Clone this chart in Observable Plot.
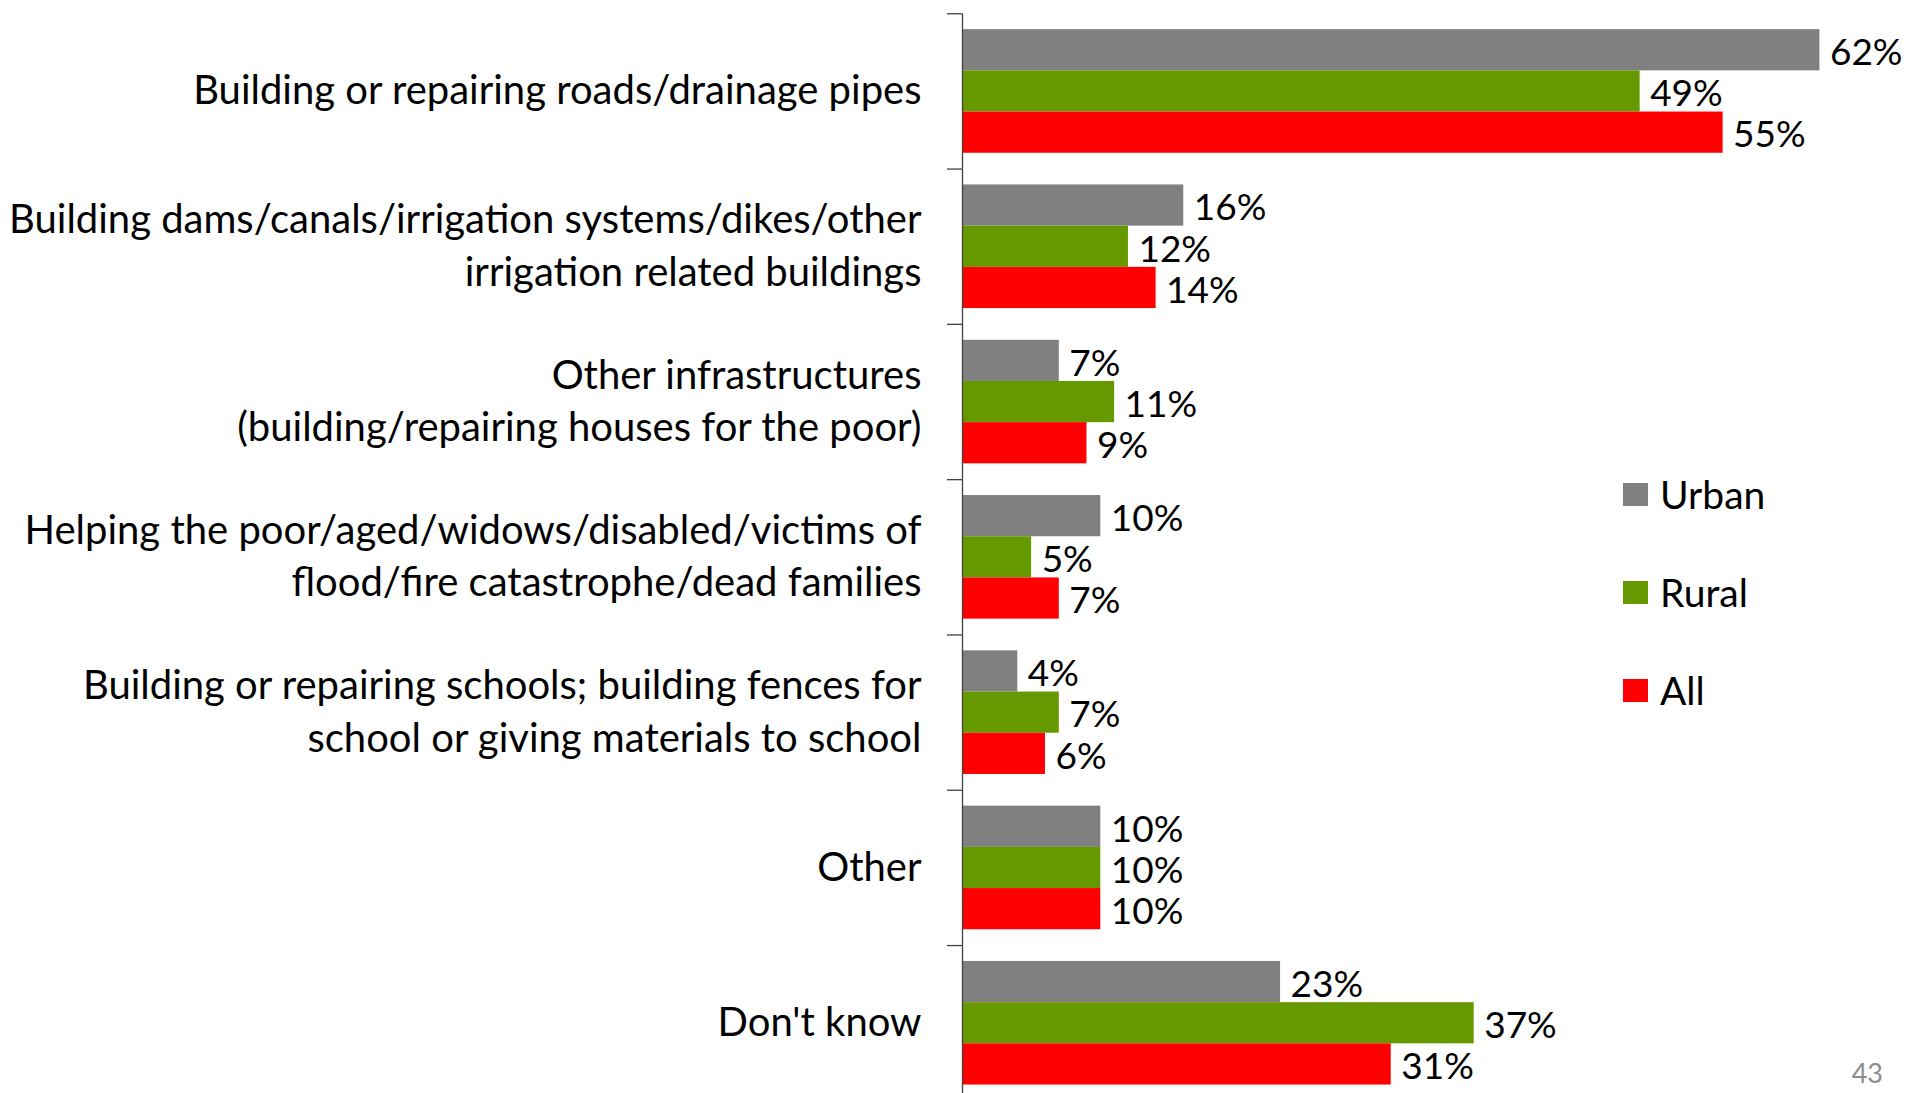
<!DOCTYPE html>
<html><head><meta charset="utf-8">
<script src="https://cdn.jsdelivr.net/npm/d3@7"></script>
<script src="https://cdn.jsdelivr.net/npm/@observablehq/plot@0.6"></script>
<style>
html,body{margin:0;padding:0;background:#fff;}
#wrap{position:relative;width:1907px;height:1093px;overflow:hidden;font-family:Lato,sans-serif;}
.item{position:absolute;left:1623px;height:40px;display:flex;align-items:center;white-space:nowrap;font-size:39px;color:#000;}
.sw{width:25px;height:23px;margin-right:12px;flex:none;}
#page{position:absolute;right:24px;top:1056px;font-size:27px;color:#8c8c8c;}
</style></head><body><div id="wrap"></div>
<script>
const categories = [
  "Building or repairing roads/drainage pipes",
  "Building dams/canals/irrigation systems/dikes/other\nirrigation related buildings",
  "Other infrastructures\n(building/repairing houses for the poor)",
  "Helping the poor/aged/widows/disabled/victims of\nflood/fire catastrophe/dead families",
  "Building or repairing schools; building fences for\nschool or giving materials to school",
  "Other",
  "Don't know"
];
const series = ["Urban", "Rural", "All"];
const seriesColors = ["#808080", "#669900", "#ff0000"];
const urban = [62, 16, 7, 10, 4, 10, 23];
const rural = [49, 12, 11, 5, 7, 10, 37];
const all   = [55, 14, 9, 7, 6, 10, 31];
const pageNumber = "43";

const valuesBySeries = [urban, rural, all];
const rows = [];
categories.forEach((c, i) => {
  valuesBySeries.forEach((arr, j) => rows.push({category: c, series: series[j], value: arr[i]}));
});

const chart = Plot.plot({
  width: 1907,
  height: 1093,
  marginLeft: 962,
  marginRight: 4.6,
  marginTop: 0,
  marginBottom: 0,
  style: {fontFamily: "Lato, sans-serif", background: "white", overflow: "visible"},
  x: {domain: [0, 68], axis: null},
  y: {domain: series, axis: null, paddingInner: 0, paddingOuter: 0.385, round: false},
  fy: {domain: categories, axis: null, padding: 0, range: [13.3, 1100.4], round: false},
  color: {domain: series, range: seriesColors},
  marks: [
    Plot.barX(rows, {fy: "category", y: "series", x: "value", fill: "series"}),
    Plot.ruleX([0], {stroke: "#404040", strokeWidth: 1.3}),
    Plot.ruleY(categories, {fy: d => d, y: () => "Urban", x1: 0, x2: 0, insetLeft: -15, dy: -36.5, stroke: "#404040", strokeWidth: 1.3}),
    Plot.text(rows, {fy: "category", y: "series", x: "value", text: d => d.value + "%", dx: 10, dy: 3, textAnchor: "start", fontSize: 37, fill: "black"}),
    Plot.text(categories, {fy: d => d, frameAnchor: "left", text: d => d, textAnchor: "end", dx: -41, dy: -4, fontSize: 40, lineHeight: 1.31, fill: "black"})
  ]
});

const wrap = document.getElementById("wrap");
wrap.appendChild(chart);

const legendCenters = [494, 592, 690];
series.forEach((s, i) => {
  const item = document.createElement("div");
  item.className = "item";
  item.style.top = (legendCenters[i] - 20) + "px";
  const sw = document.createElement("span");
  sw.className = "sw";
  sw.style.background = seriesColors[i];
  const t = document.createElement("span");
  t.textContent = s;
  item.appendChild(sw);
  item.appendChild(t);
  wrap.appendChild(item);
});
const page = document.createElement("div");
page.id = "page";
page.textContent = pageNumber;
wrap.appendChild(page);
</script>
</body></html>
